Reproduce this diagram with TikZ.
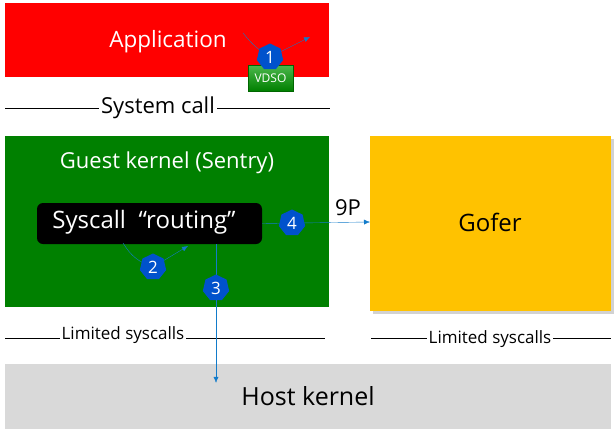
\documentclass[tikz,border=0pt]{standalone}
\usepackage{fontspec}
\setmainfont{Open Sans}
\usetikzlibrary{shapes.geometric,arrows.meta}
\tikzset{
  blk/.style={draw=none,anchor=north west,inner sep=0pt},
  badge/.style={regular polygon,regular polygon sides=7,fill=blue!60!cyan!80!black,text=white,
    minimum size=27pt,inner sep=0pt,font=\fontsize{17}{17}\selectfont},
  flow/.style={draw=cyan!60!blue,thin,-{Latex[length=6pt,width=5pt]}},
  sep/.style={draw=black,thin},
  lbl/.style={fill=white,inner sep=2pt,font=\fontsize{19}{19}\selectfont}
}
\begin{document}
\begin{tikzpicture}[x=1pt,y=-1pt]
\useasboundingbox (0,0) rectangle (616,434);
% boxes
\fill[red] (5,3) rectangle (329,77);
\node[text=white,font=\fontsize{22.5}{22.5}\selectfont] (app) at (168,42) {Application};
\fill[green!50!black] (5,136) rectangle (329,307);
\node[text=white,font=\fontsize{22}{22}\selectfont] (guest) at (167,163) {Guest kernel (Sentry)};
\fill[black!35,opacity=.5] (373,139) rectangle (614,314);
\fill[orange!40!yellow!95!red] (370,136) rectangle (611,311);
\node[font=\fontsize{24}{24}\selectfont] (gofer) at (490,222) {Gofer};
\fill[black!15] (5,364) rectangle (611,429);
\node[font=\fontsize{25}{25}\selectfont] (host) at (308,396) {Host kernel};
\node[fill=black,rounded corners=6pt,text=white,minimum width=225pt,minimum height=41pt,
  font=\fontsize{24}{24}\selectfont] (route) at (149.5,223.5) {};
\node[text=white,font=\fontsize{24}{24}\selectfont] (routet) at (144,222) {Syscall~~“routing”};
\node[draw=green!40!black,top color=green!60!black!70,bottom color=green!50!black,text=white,
  minimum width=45pt,minimum height=26pt,inner sep=0pt,font=\fontsize{12}{12}\selectfont] (vdso) at (270.5,78) {VDSO};
% separators
\coordinate (s1) at (5,108); \coordinate (s2) at (330,108);
\draw[sep] (s1) -- (s2);
\node[fill=white,inner sep=2pt,font=\fontsize{22}{22}\selectfont] (sys) at (158,108) {System call};
\coordinate (l1) at (5,338); \coordinate (l2) at (325,338);
\coordinate (r1) at (371,338); \coordinate (r2) at (611,338);
\draw[sep] (l1) -- (l2);
\draw[sep] (r1) -- (r2);
\node[lbl,font=\fontsize{17}{17}\selectfont] (limL) at (123,335) {Limited syscalls};
\node[lbl,font=\fontsize{17}{17}\selectfont] (limR) at (490,339) {Limited syscalls};
% flows
\coordinate (a1) at (243,33); \coordinate (a2) at (310,37);
\draw[flow] (a1) to[bend right=10] (270,57) -- (a2);
\node[badge] (b1) at (270,57) {1};
\coordinate (c1) at (123,243); \coordinate (c2) at (188,246);
\draw[flow] (c1) to[bend right=20] (153,267) -- (c2);
\node[badge] (b2) at (153,267) {2};
\draw[flow] (route.east) -- (gofer.west -| 370,223);
\node[badge] (b4) at (292,223) {4};
\node[font=\fontsize{22}{22}\selectfont] (ninep) at (348,208) {9P};
\coordinate (d1) at (216,244);
\draw[flow] (d1) -- (host.north -| d1);
\node[badge] (b3) at (216,288) {3};
\end{tikzpicture}
\end{document}
